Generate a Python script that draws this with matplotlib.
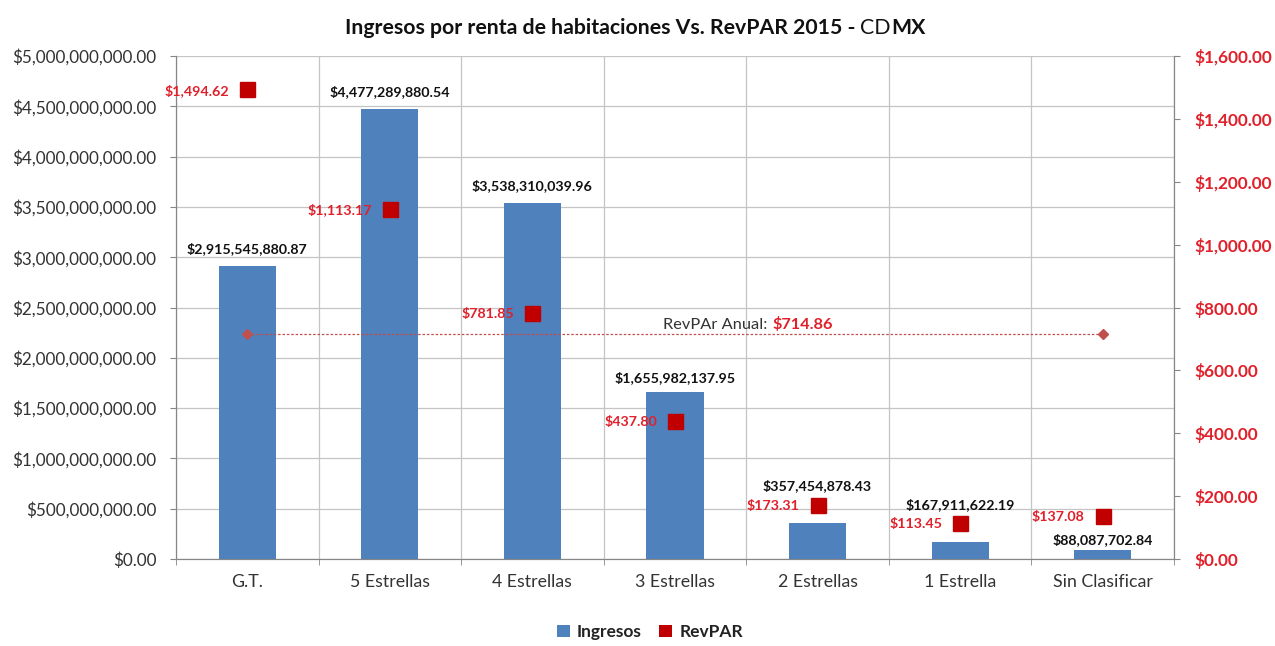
import matplotlib
matplotlib.use("Agg")
import matplotlib.pyplot as plt
from matplotlib.ticker import FuncFormatter, MultipleLocator

categories = ["G.T.", "5 Estrellas", "4 Estrellas", "3 Estrellas", "2 Estrellas", "1 Estrella", "Sin Clasificar"]
ingresos = [2915545880.87, 4477289880.54, 3538310039.96, 1655982137.95, 357454878.43, 167911622.19, 88087702.84]
revpar = [1494.62, 1113.17, 781.85, 437.80, 173.31, 113.45, 137.08]
revpar_anual = 714.86

# label offsets above bar tops (pixels)
bar_label_offsets = [17, 17, 17, 15, 37, 37, 11]

plt.rcParams['font.family'] = ['Lato', 'DejaVu Sans']

W, H = 1275, 646
fig = plt.figure(figsize=(W / 100, H / 100), dpi=100)
L, R, B, T = 176, 1174, 559, 56
ax = fig.add_axes([L / W, 1 - B / H, (R - L) / W, (B - T) / H])
ax2 = ax.twinx()

x = list(range(len(categories)))
bar_color = "#4F81BD"
red = "#C00000"
red_text = "#E0202A"
px = 0.72  # points per pixel at 100 dpi

ax.bar(x, ingresos, width=0.4, color=bar_color, zorder=3, label="Ingresos")
ax.set_xlim(-0.5, len(categories) - 0.5)
ax.set_ylim(0, 5e9)
ax.yaxis.set_major_locator(MultipleLocator(5e8))
ax.yaxis.set_major_formatter(FuncFormatter(lambda v, p: f"${v:,.2f}"))
ax.set_xticks(x)
ax.set_xticklabels(categories, fontsize=12.8, color="#333333")
ax.set_xticks([i - 0.5 for i in range(len(categories) + 1)], minor=True)
ax.grid(True, which="minor", axis="x", color="#c4c4c4", lw=0.9, zorder=0)
ax.grid(True, which="major", axis="y", color="#c4c4c4", lw=0.9, zorder=0)
ax.tick_params(axis="x", which="major", length=0, pad=11)
ax.tick_params(axis="x", which="minor", length=4, color="#868686")
ax.tick_params(axis="y", labelsize=12.3, labelcolor="#333333", length=4, pad=10, color="#868686")
ax.spines["top"].set_visible(False)
ax2.spines["top"].set_visible(False)
for s in ["left", "bottom", "right"]:
    ax.spines[s].set_color("#868686")
    ax2.spines[s].set_color("#868686")

for xi, v, off in zip(x, ingresos, bar_label_offsets):
    ax.annotate(f"${v:,.2f}", (xi, v), xytext=(0, off * px), textcoords="offset points",
                ha="center", va="center", fontsize=10.3, fontweight="bold", color="#111111", zorder=5)

ax2.set_ylim(0, 1600)
ax2.yaxis.set_major_locator(MultipleLocator(200))
ax2.yaxis.set_major_formatter(FuncFormatter(lambda v, p: f"${v:,.2f}"))
ax2.tick_params(axis="y", labelsize=12.4, labelcolor=red_text, length=4, pad=11, color="#868686")
for lab in ax2.get_yticklabels():
    lab.set_fontweight("bold")

ax2.plot(x, revpar, linestyle="none", marker="s", markersize=10.8, color=red, zorder=6)
for xi, v in zip(x, revpar):
    ax2.annotate(f"${v:,.2f}", (xi, v), xytext=(-18 * px, -1 * px), textcoords="offset points",
                 ha="right", va="center", fontsize=10.3, fontweight="bold", color=red_text, zorder=6)

ax2.plot([x[0], x[-1]], [revpar_anual, revpar_anual], linestyle=(0, (2, 1.5)), lw=0.9, color="#C0504D",
         marker="D", markersize=5.5, zorder=5)
anchor_x = (772 - L) / ((R - L) / 7) - 0.5
ax2.annotate("RevPAr Anual: ", (anchor_x, revpar_anual), xytext=(0, 5 * px), textcoords="offset points",
             ha="right", va="baseline", fontsize=11.8, color="#333333")
ax2.annotate(f"${revpar_anual:,.2f}", (anchor_x, revpar_anual), xytext=(0, 5 * px), textcoords="offset points",
             ha="left", va="baseline", fontsize=11.8, fontweight="bold", color=red_text)

# Title in pieces ("CD" regular, rest bold)
pieces = [("Ingresos por renta de habitaciones Vs. RevPAR 2015 - ", "bold"), ("CD", "normal"), ("MX", "bold")]
renderer = fig.canvas.get_renderer()
texts = []
for s, w in pieces:
    t = fig.text(0, 1 - 28 / H, s, ha="left", va="center", fontsize=15.3, fontweight=w, color="#111111")
    texts.append(t)
widths = [t.get_window_extent(renderer).width for t in texts]
total = sum(widths)
cx = 635
start = cx - total / 2
for t, wdt in zip(texts, widths):
    t.set_x(start / W)
    start += wdt

from matplotlib.patches import Patch
handles = [Patch(facecolor=bar_color, edgecolor="none"), Patch(facecolor=red, edgecolor="none")]
leg = fig.legend(handles, ["Ingresos", "RevPAR"], loc="center", bbox_to_anchor=(650 / W, 1 - 632 / H), ncol=2,
                 frameon=False, fontsize=12.5, handlelength=0.75, handleheight=0.75, columnspacing=1.0,
                 handletextpad=0.4)
for t in leg.get_texts():
    t.set_fontweight("bold")
    t.set_color("#222222")

fig.savefig("out.png", dpi=100)
